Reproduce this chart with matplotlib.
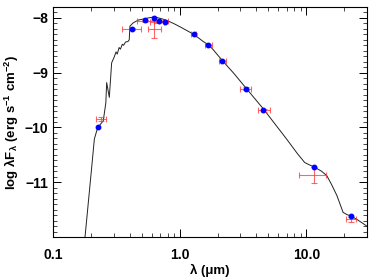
import numpy as np
import matplotlib
matplotlib.use("Agg")
import matplotlib.pyplot as plt
from matplotlib.ticker import FixedLocator, MultipleLocator, LogLocator, NullFormatter

plt.rcParams['font.family'] = ['Liberation Sans', 'DejaVu Sans']
plt.rcParams['font.weight'] = 'bold'
plt.rcParams['mathtext.fontset'] = 'custom'
plt.rcParams['mathtext.rm'] = 'Liberation Sans:bold'
plt.rcParams['mathtext.it'] = 'Liberation Sans:bold'
plt.rcParams['mathtext.bf'] = 'Liberation Sans:bold'

# model SED (wavelength in micron, log lambda F_lambda)
model_wl = [0.178, 0.200, 0.211, 0.221, 0.234, 0.248, 0.260, 0.264, 0.277, 0.289,
            0.302, 0.313, 0.320, 0.331, 0.339, 0.351, 0.359, 0.372, 0.389, 0.398,
            0.403, 0.427, 0.468, 0.562, 0.631, 0.759, 0.891, 1.0, 1.29, 1.53,
            1.68, 1.82, 2.17, 2.69, 3.33, 4.57, 5.62, 6.97, 8.51, 9.70,
            10.5, 11.5, 13.2, 14.5, 15.8, 17.4, 18.6, 19.5, 20.9, 22.6,
            25.1, 27.5, 30.0]
model_flux = [-12.0, -10.78, -10.21, -10.05, -9.95, -9.88, -9.55, -9.18, -9.45, -8.82,
              -8.72, -8.62, -8.66, -8.54, -8.57, -8.48, -8.50, -8.44, -8.43, -8.40,
              -8.15, -8.09, -8.04, -8.00, -7.98, -8.03, -8.10, -8.16, -8.30, -8.43,
              -8.49, -8.57, -8.78, -9.02, -9.28, -9.66, -9.93, -10.21, -10.48, -10.64,
              -10.68, -10.72, -10.80, -10.88, -11.04, -11.24, -11.42, -11.55, -11.59, -11.62,
              -11.68, -11.74, -11.80]

# model synthetic photometry (blue dots)
synth_wl = [0.226, 0.42, 0.53, 0.63, 0.69, 0.77, 1.29, 1.68, 2.17, 3.33, 4.57, 11.5, 22.6]
synth_flux = [-10.0, -8.2, -8.03, -8.01, -8.05, -8.07, -8.3, -8.49, -8.78, -9.29, -9.69, -10.72, -11.62]

# observed photometry (red error bars)
obs_wl = [0.239, 0.42, 0.53, 0.625, 0.66, 0.77, 1.29, 1.68, 2.17, 3.35, 4.6, 11.5, 22.6]
obs_flux = [-9.85, -8.2, -8.05, -8.2, -8.07, -8.06, -8.3, -8.49, -8.78, -9.29, -9.69, -10.87, -11.68]
obs_wl_lo = [0.219, 0.349, 0.46, 0.562, 0.58, 0.69, 1.22, 1.58, 2.05, 3.01, 4.12, 8.7, 20.7]
obs_wl_hi = [0.259, 0.493, 0.62, 0.705, 0.75, 0.81, 1.35, 1.78, 2.30, 3.68, 5.13, 14.4, 24.8]
obs_err = [0.04, 0.02, 0.02, 0.17, 0.02, 0.02, 0.02, 0.02, 0.02, 0.02, 0.02, 0.15, 0.05]

fig = plt.figure(figsize=(3.74, 2.8), dpi=100)
ax = fig.add_axes([0.1426, 0.1536, 0.838, 0.8214])

ax.plot(model_wl, model_flux, color='#222222', lw=0.7)

xerr = [np.array(obs_wl) - np.array(obs_wl_lo), np.array(obs_wl_hi) - np.array(obs_wl)]
ax.errorbar(obs_wl, obs_flux, xerr=xerr, yerr=obs_err, fmt='none',
            ecolor='#ff3333', elinewidth=0.8, capsize=2, capthick=0.8, alpha=0.75)
ax.plot(synth_wl, synth_flux, 'o', color='blue', ms=3.2, mec='blue')

ax.set_xscale('log')
ax.set_xlim(0.1, 30)
ax.set_ylim(-12, -7.8)

ax.xaxis.set_major_locator(FixedLocator([0.1, 1.0, 10.0]))
ax.set_xticklabels(['0.1', '1.0', '10.0'])
ax.xaxis.set_minor_locator(LogLocator(base=10, subs=np.arange(2, 10)))
ax.xaxis.set_minor_formatter(NullFormatter())
ax.yaxis.set_major_locator(FixedLocator([-11, -10, -9, -8]))
ax.yaxis.set_minor_locator(MultipleLocator(0.1))

ax.tick_params(which='both', direction='in', top=True, right=True, labelsize=10)
ax.tick_params(which='major', length=6, width=0.7)
ax.tick_params(which='minor', length=3, width=0.5)
ax.tick_params(axis='x', pad=8)

ax.set_xlabel('λ (μm)', fontsize=9.5, fontweight='bold', labelpad=1)
ax.set_ylabel(r'log λF$_λ$ (erg s$^{-1}$ cm$^{-2}$)', fontsize=9.5, fontweight='bold', labelpad=3)

fig.savefig('out.png', dpi=100)
